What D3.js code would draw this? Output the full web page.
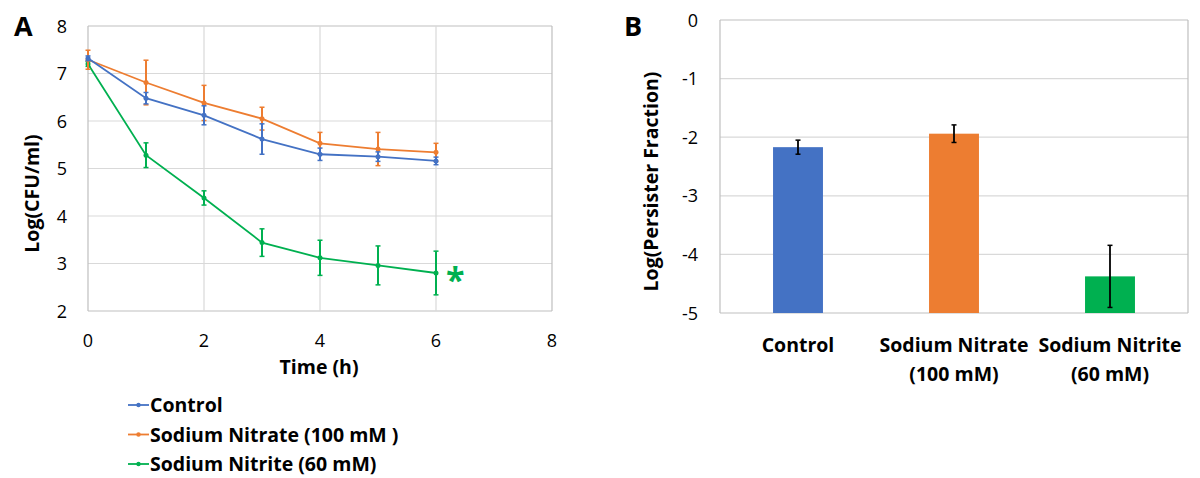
<!DOCTYPE html>
<html>
<head>
<meta charset="utf-8">
<script src="https://cdn.jsdelivr.net/npm/d3@7"></script>
<style>
  body { margin: 0; background: #fff; }
  svg text { font-family: "Open Sans", Lato, sans-serif; fill: #000; }
</style>
</head>
<body>
<div id="chart"></div>
<script>
const WIDTH = 1200;
const HEIGHT = 478;

// panel A: survival over time
const times = [0, 1, 2, 3, 4, 5, 6];
const seriesNames = ["Control", "Sodium Nitrate (100 mM )", "Sodium Nitrite (60 mM)"];
const controlMean = [7.32, 6.48, 6.12, 5.62, 5.30, 5.25, 5.16];
const controlErr = [0.05, 0.12, 0.2, 0.32, 0.13, 0.1, 0.08];
const nitrateMean = [7.29, 6.81, 6.38, 6.05, 5.53, 5.41, 5.34];
const nitrateErr = [0.2, 0.47, 0.37, 0.24, 0.23, 0.35, 0.19];
const nitriteMean = [7.2, 5.28, 4.38, 3.44, 3.12, 2.96, 2.80];
const nitriteErr = [0.05, 0.26, 0.15, 0.29, 0.37, 0.41, 0.46];
const xTicks = [0, 2, 4, 6, 8];
const yTicksA = [2, 3, 4, 5, 6, 7, 8];

// panel B: persister fraction
const groups = [["Control"], ["Sodium Nitrate", "(100 mM)"], ["Sodium Nitrite", "(60 mM)"]];
const persister = [-2.17, -1.94, -4.375];
const persisterErr = [0.12, 0.15, 0.53];
const yTicksB = [0, -1, -2, -3, -4, -5];

const colors = ["#4472C4", "#ED7D31", "#00B050"];
const GRID = "#d9d9d9";
const BORDER = "#bfbfbf";
const FS = 18;    // tick labels
const FB = 19.5;  // bold titles, legend, categories

const svg = d3.select("#chart").append("svg")
  .attr("width", WIDTH)
  .attr("height", HEIGHT);

// ---------- panel A ----------
const ax = d3.scaleLinear().domain([0, 8]).range([88, 552]);
const ay = d3.scaleLinear().domain([2, 8]).range([311, 26]);
const a = svg.append("g");

a.selectAll(".hgrid").data(yTicksA).enter().append("line")
  .attr("x1", ax(0)).attr("x2", ax(8))
  .attr("y1", d => ay(d)).attr("y2", d => ay(d))
  .attr("stroke", d => (d === 2 || d === 8) ? BORDER : GRID)
  .attr("stroke-width", 1.2);
a.selectAll(".vgrid").data(xTicks).enter().append("line")
  .attr("y1", ay(2)).attr("y2", ay(8))
  .attr("x1", d => ax(d)).attr("x2", d => ax(d))
  .attr("stroke", d => (d === 0 || d === 8) ? BORDER : GRID)
  .attr("stroke-width", 1.2);

a.selectAll(".ylab").data(yTicksA).enter().append("text")
  .attr("x", ax(0) - 21).attr("y", d => ay(d) + 6.5)
  .attr("text-anchor", "end").attr("font-size", FS)
  .text(d => d);
a.selectAll(".xlab").data(xTicks).enter().append("text")
  .attr("x", d => ax(d)).attr("y", 347)
  .attr("text-anchor", "middle").attr("font-size", FS)
  .text(d => d);

a.append("text").attr("x", ax(4) - 1).attr("y", 374)
  .attr("text-anchor", "middle").attr("font-size", FB).attr("font-weight", "bold")
  .text("Time (h)");
a.append("text")
  .attr("transform", `translate(39,${(ay(2) + ay(8)) / 2 + 25}) rotate(-90)`)
  .attr("text-anchor", "middle").attr("font-size", FB).attr("font-weight", "bold")
  .text("Log(CFU/ml)");
a.append("text").attr("x", 14).attr("y", 36)
  .attr("font-size", 27).attr("font-weight", "bold")
  .attr("font-family", "'Liberation Sans', Arial, sans-serif")
  .text("A");

const seriesA = [
  { mean: controlMean, err: controlErr },
  { mean: nitrateMean, err: nitrateErr },
  { mean: nitriteMean, err: nitriteErr }
];
const line = d3.line().x((d, i) => ax(times[i])).y(d => ay(d));

// draw green first, then orange, then blue on top
[2, 1, 0].forEach(k => {
  const s = seriesA[k];
  const g = a.append("g");
  g.selectAll("line.err").data(s.mean).enter().append("line")
    .attr("x1", (d, i) => ax(times[i])).attr("x2", (d, i) => ax(times[i]))
    .attr("y1", (d, i) => ay(d - s.err[i])).attr("y2", (d, i) => ay(d + s.err[i]))
    .attr("stroke", colors[k]).attr("stroke-width", 2);
  [-1, 1].forEach(sign => {
    g.selectAll(null).data(s.mean).enter().append("line")
      .attr("x1", (d, i) => ax(times[i]) - 2.5).attr("x2", (d, i) => ax(times[i]) + 2.5)
      .attr("y1", (d, i) => ay(d + sign * s.err[i])).attr("y2", (d, i) => ay(d + sign * s.err[i]))
      .attr("stroke", colors[k]).attr("stroke-width", 1.5);
  });
  g.append("path").datum(s.mean)
    .attr("d", line).attr("fill", "none")
    .attr("stroke", colors[k]).attr("stroke-width", 1.8);
  g.selectAll("circle").data(s.mean).enter().append("circle")
    .attr("cx", (d, i) => ax(times[i])).attr("cy", d => ay(d))
    .attr("r", 2.5).attr("fill", colors[k]);
});

a.append("text").attr("x", ax(6) + 10).attr("y", ay(nitriteMean[6]) + 19)
  .attr("font-size", 34).attr("font-weight", "bold")
  .style("fill", colors[2]).text("*");

// legend
const legend = a.append("g");
seriesNames.forEach((name, i) => {
  const y = 405 + i * 29.5;
  legend.append("line").attr("x1", 128).attr("x2", 149)
    .attr("y1", y).attr("y2", y)
    .attr("stroke", colors[i]).attr("stroke-width", 1.8);
  legend.append("circle").attr("cx", 138.5).attr("cy", y).attr("r", 2.2).attr("fill", colors[i]);
  legend.append("text").attr("x", 150).attr("y", y + 7)
    .attr("font-size", FB).attr("font-weight", "bold").text(name);
});

// ---------- panel B ----------
const bx = d3.scaleBand().domain(d3.range(groups.length)).range([720, 1188]);
const by = d3.scaleLinear().domain([-5, 0]).range([313, 20]);
const barW = bx.bandwidth() * 0.32;
const b = svg.append("g");

b.selectAll(".hgrid").data(yTicksB).enter().append("line")
  .attr("x1", 720).attr("x2", 1188)
  .attr("y1", d => by(d)).attr("y2", d => by(d))
  .attr("stroke", d => (d === 0 || d === -5) ? BORDER : GRID)
  .attr("stroke-width", 1.2);
[720, 1188].forEach(x => {
  b.append("line").attr("x1", x).attr("x2", x)
    .attr("y1", by(0)).attr("y2", by(-5))
    .attr("stroke", BORDER).attr("stroke-width", 1.2);
});

b.selectAll("rect").data(persister).enter().append("rect")
  .attr("x", (d, i) => bx(i) + bx.bandwidth() / 2 - barW / 2)
  .attr("width", barW)
  .attr("y", d => by(d))
  .attr("height", d => by(-5) - by(d))
  .attr("fill", (d, i) => colors[i]);

const cx = i => bx(i) + bx.bandwidth() / 2;
b.selectAll(".err").data(persister).enter().append("line")
  .attr("x1", (d, i) => cx(i)).attr("x2", (d, i) => cx(i))
  .attr("y1", (d, i) => by(d - persisterErr[i])).attr("y2", (d, i) => by(d + persisterErr[i]))
  .attr("stroke", "#000").attr("stroke-width", 1.8);
[-1, 1].forEach(sign => {
  b.selectAll(null).data(persister).enter().append("line")
    .attr("x1", (d, i) => cx(i) - 2.5).attr("x2", (d, i) => cx(i) + 2.5)
    .attr("y1", (d, i) => by(d + sign * persisterErr[i])).attr("y2", (d, i) => by(d + sign * persisterErr[i]))
    .attr("stroke", "#000").attr("stroke-width", 1.5);
});

b.selectAll(".ylab").data(yTicksB).enter().append("text")
  .attr("x", 698).attr("y", d => by(d) + 6.5)
  .attr("text-anchor", "end").attr("font-size", FS)
  .text(d => d === 0 ? "0" : "-" + Math.abs(d));

groups.forEach((lines, i) => {
  lines.forEach((t, j) => {
    b.append("text").attr("x", cx(i)).attr("y", 352 + j * 29)
      .attr("text-anchor", "middle").attr("font-size", FB).attr("font-weight", "bold")
      .text(t);
  });
});

b.append("text")
  .attr("transform", `translate(658,${(by(0) + by(-5)) / 2 + 15}) rotate(-90)`)
  .attr("text-anchor", "middle").attr("font-size", FB).attr("font-weight", "bold")
  .text("Log(Persister Fraction)");
b.append("text").attr("x", 624).attr("y", 36)
  .attr("font-size", 27).attr("font-weight", "bold")
  .attr("font-family", "'Liberation Sans', Arial, sans-serif")
  .text("B");
</script>
</body>
</html>
